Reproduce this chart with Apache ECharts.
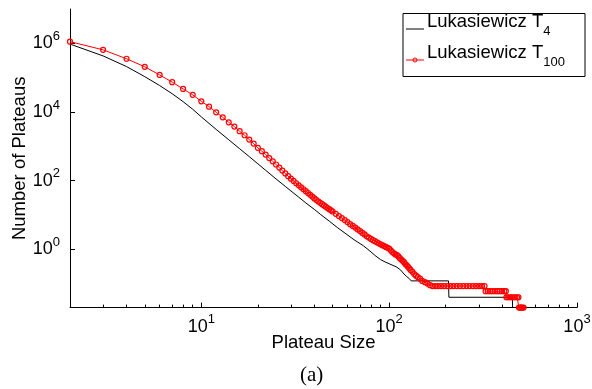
<!DOCTYPE html>
<html><head><meta charset="utf-8">
<script src="https://cdn.jsdelivr.net/npm/echarts@6/dist/echarts.min.js"></script>
<style>html,body{margin:0;padding:0;background:#fff}#c{width:592px;height:389px}</style>
</head><body><div id="c"></div>
<script>
// ---- data ----
const seriesNames = ['Lukasiewicz T4', 'Lukasiewicz T100'];

const blackSizes = [2,3,4,5,6,7,8,9,10,12,14,16,18,20,22,25,28,30,33,36,40,43,48,53,59,65,73,79,85,90,95,101,106,110,115,120,124,128,131,207,208,453,454];
const blackValues = [9.5e5,4.3e5,2.1e5,1.07e5,5.9e4,3.4e4,2.0e4,1.2e4,7.2e3,3.1e3,1.55e3,850,500,310,200,112,68,50,33,22.4,14.5,10.5,6.6,4.3,2.8,1.9,1.26,0.89,0.63,0.5,0.43,0.37,0.33,0.30,0.25,0.19,0.16,0.14,0.12,0.12,0.04,0.04,0.02];

const redSizes = [2,3,4,5,6,7,8,9,10,11,12,13,14,15,16,17,18,19,20,21,22,23,24,25,26,27,28,29,30,
  31,32,33,34,35,36,37,38,39,40,41,42,43,44,45,46,47,48,49,50,52,54,56,58,60,62,64,66,68,70,72,74,76,78,80,
  82,84,86,88,90,92,94,96,98,100,102,104,106,108,110,112,114,116,118,120,122,124,126,128,130,133,136,139,142,146,150,155,160,165,
  170,176,182,189,196,204,212,220,229,238,248,258,268,279,290,301,312,322,
  326,335,345,355,366,377,388,399,410,418,
  421,430,440,450,460,470,480,488,
  491,498,505,512,520];
const redValues = [1.12e6,6.46e5,3.55e5,2.07e5,1.2e5,7.4e4,4.7e4,3.15e4,2.05e4,1.43e4,9.8e3,7.0e3,5.0e3,3.75e3,2.75e3,2.1e3,1.57e3,1.2e3,900,720,575,455,365,295,240,196,162,135,114,
  98,84,73,64,56,49.4,43.6,38.5,34.2,30.4,27.2,24.7,22.5,20.6,18.9,17.3,15.9,14.7,13.6,12.6,10.8,9.3,8.1,7.1,6.2,5.4,4.8,4.3,3.8,3.4,3.0,2.7,2.4,2.2,2.0,
  1.84,1.72,1.6,1.5,1.4,1.32,1.24,1.17,1.11,1.05,0.93,0.83,0.76,0.71,0.68,0.62,0.55,0.5,0.46,0.42,0.37,0.34,0.31,0.28,0.25,0.22,0.19,0.17,0.155,0.14,0.12,0.11,0.1,0.09,
  0.085,0.085,0.085,0.085,0.085,0.085,0.085,0.085,0.085,0.085,0.085,0.085,0.085,0.085,0.085,0.085,0.085,0.085,
  0.06,0.06,0.06,0.06,0.06,0.06,0.06,0.06,0.06,0.06,
  0.04,0.04,0.04,0.04,0.04,0.04,0.04,0.04,
  0.02,0.02,0.02,0.02,0.02];

const xMajorTicks = [10, 100, 1000];
const xMinorTicks = [3,4,5,6,7,8,9,20,30,40,50,60,70,80,90,200,300,400,500,600,700,800,900];
const yMajorTicks = [1, 100, 10000, 1000000];
const xRange = [2, 1000];
const yRange = [0.02, 1e7];
const xTitle = 'Plateau Size';
const yTitle = 'Number of Plateaus';
const caption = '(a)';

// ---- chart ----
const FONT = '"Liberation Sans", Arial, Helvetica, sans-serif';
const SERIF = '"Liberation Serif", "DejaVu Serif", serif';
const chart = echarts.init(document.getElementById('c'), null, {renderer: 'canvas'});

const powLabel = v => '{b|10}{s|' + Math.round(Math.log10(v)) + '}';
const powRich = {
  b: {fontFamily: FONT, fontSize: 18, lineHeight: 18, color: '#000'},
  s: {fontFamily: FONT, fontSize: 13, lineHeight: 13, padding: [0, 0, 14, 0], color: '#000'}
};

const option = {
  animation: false,
  backgroundColor: '#fff',
  grid: {left: 70, right: 15, top: 9, bottom: 81.4, containLabel: false, outerBoundsMode: 'none'},
  xAxis: [{
    type: 'log', logBase: 10, min: xRange[0], max: xRange[1],
    name: xTitle, nameLocation: 'middle', nameGap: 26, nameMoveOverlap: false,
    nameTextStyle: {fontFamily: FONT, fontSize: 18.5, color: '#000'},
    axisLine: {show: true, lineStyle: {color: '#000', width: 1}},
    axisTick: {show: true, inside: true, length: 5, customValues: xMajorTicks, lineStyle: {color: '#000'}},
    axisLabel: {show: true, margin: 10, customValues: xMajorTicks, formatter: powLabel, rich: powRich},
    splitLine: {show: false}, minorTick: {show: false}
  }, {
    type: 'log', logBase: 10, min: xRange[0], max: xRange[1], position: 'top', offset: -298.6,
    axisLine: {show: false},
    axisTick: {show: true, inside: false, length: 3, customValues: xMinorTicks, lineStyle: {color: '#000'}},
    axisLabel: {show: false}, splitLine: {show: false}
  }],
  yAxis: [{
    type: 'log', logBase: 10, min: yRange[0], max: yRange[1],
    name: yTitle, nameLocation: 'middle', nameGap: 41, nameMoveOverlap: false,
    nameTextStyle: {fontFamily: FONT, fontSize: 18.5, color: '#000'},
    axisLine: {show: true, lineStyle: {color: '#000', width: 1}},
    axisTick: {show: true, inside: true, length: 5, customValues: yMajorTicks, lineStyle: {color: '#000'}},
    axisLabel: {show: true, margin: 10, customValues: yMajorTicks, formatter: powLabel, rich: powRich},
    splitLine: {show: false}, minorTick: {show: false}
  }],
  series: [{
    type: 'line', name: seriesNames[0],
    data: blackSizes.map((s, i) => [s, blackValues[i]]),
    symbol: 'none', showSymbol: false, clip: false,
    lineStyle: {color: '#000', width: 1}, itemStyle: {color: '#000'}, z: 2
  }, {
    type: 'line', name: seriesNames[1],
    data: redSizes.map((s, i) => [s, redValues[i]]),
    symbol: 'circle', symbolSize: 5, showSymbol: true, clip: false,
    itemStyle: {color: 'rgba(255,0,0,0)', borderColor: '#ff0000', borderWidth: 1.2},
    lineStyle: {color: '#ff0000', width: 1}, z: 3
  }],
  graphic: [
    {type: 'rect', shape: {x: 403, y: 13.5, width: 182, height: 63}, style: {fill: '#fff', stroke: '#000', lineWidth: 1}, z: 10},
    {type: 'line', shape: {x1: 406, y1: 29, x2: 424, y2: 29}, style: {stroke: '#000', lineWidth: 1}, z: 11},
    {type: 'text', x: 427, y: 21.7, z: 11, style: {
      text: '{m|Lukasiewicz T}{s|4}', verticalAlign: 'middle', align: 'left',
      rich: {m: {fontFamily: FONT, fontSize: 18.5, lineHeight: 20, fill: '#000'},
             s: {fontFamily: FONT, fontSize: 13, lineHeight: 13, padding: [20, 0, 0, 0], fill: '#000'}}}},
    {type: 'line', shape: {x1: 406, y1: 60, x2: 424, y2: 60}, style: {stroke: '#ff0000', lineWidth: 1}, z: 11},
    {type: 'circle', shape: {cx: 415, cy: 60, r: 2}, style: {fill: 'none', stroke: '#ff0000', lineWidth: 1}, z: 12},
    {type: 'text', x: 427, y: 52.7, z: 11, style: {
      text: '{m|Lukasiewicz T}{s|100}', verticalAlign: 'middle', align: 'left',
      rich: {m: {fontFamily: FONT, fontSize: 18.5, lineHeight: 20, fill: '#000'},
             s: {fontFamily: FONT, fontSize: 13, lineHeight: 13, padding: [20, 0, 0, 0], fill: '#000'}}}},
    {type: 'text', x: 311.7, y: 375, z: 11, style: {text: caption, fontFamily: SERIF, fontSize: 21, fill: '#000', align: 'center', verticalAlign: 'middle'}}
  ]
};
chart.setOption(option);
</script>
</body></html>
